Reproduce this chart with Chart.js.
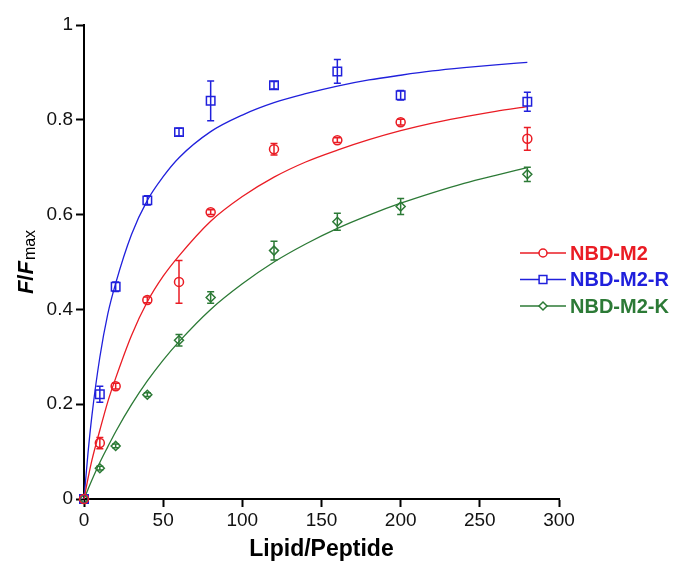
<!DOCTYPE html>
<html>
<head>
<meta charset="utf-8">
<script src="https://cdn.jsdelivr.net/npm/chart.js@4"></script>
<style>
  html, body { margin: 0; padding: 0; background: #ffffff; }
  #wrap { width: 678px; height: 563px; }
</style>
</head>
<body>
<div id="wrap"><canvas id="c" width="678" height="563"></canvas></div>
<script>
// Lipid/peptide ratios of the titration points
const ratios = [0, 10, 20, 40, 60, 80, 120, 160, 200, 280];

// Normalised fluorescence F/Fmax with standard deviations
const m2Values  = [0, 0.118, 0.238, 0.420, 0.458, 0.605, 0.738, 0.757, 0.795, 0.760];
const m2Errors  = [0, 0.012, 0.006, 0.006, 0.045, 0.005, 0.012, 0.005, 0.006, 0.024];
const m2rValues = [0, 0.221, 0.448, 0.630, 0.774, 0.840, 0.873, 0.902, 0.852, 0.838];
const m2rErrors = [0, 0.017, 0.010, 0.010, 0.008, 0.042, 0.008, 0.025, 0.010, 0.020];
const m2kValues = [0, 0.065, 0.112, 0.220, 0.335, 0.425, 0.524, 0.585, 0.617, 0.685];
const m2kErrors = [0, 0.004, 0.004, 0.004, 0.012, 0.012, 0.020, 0.018, 0.017, 0.015];

// Binding-curve fits, sampled along the ratio axis
const fitRatios = [0, 2.5, 5, 10, 15, 20, 30, 40, 50, 60, 80, 100, 120, 140, 160, 180, 200, 220, 240, 260, 280];
const m2Fit  = [0, 0.043, 0.082, 0.145, 0.205, 0.255, 0.345, 0.416, 0.470, 0.513, 0.586, 0.638, 0.679, 0.711, 0.736, 0.758, 0.777, 0.793, 0.806, 0.818, 0.828];
const m2rFit = [0, 0.096, 0.176, 0.299, 0.390, 0.455, 0.558, 0.630, 0.680, 0.720, 0.775, 0.810, 0.836, 0.855, 0.871, 0.884, 0.894, 0.903, 0.910, 0.916, 0.921];
const m2kFit = [0, 0.020, 0.040, 0.077, 0.110, 0.142, 0.199, 0.249, 0.293, 0.332, 0.400, 0.454, 0.500, 0.538, 0.571, 0.599, 0.624, 0.646, 0.666, 0.683, 0.699];

const seriesNames = ['NBD-M2', 'NBD-M2-R', 'NBD-M2-K'];
const xTicks = [0, 50, 100, 150, 200, 250, 300];
const yTicks = [0, 0.2, 0.4, 0.6, 0.8, 1];

const RED = '#ea1c24';
const BLUE = '#2020dc';
const GREEN = '#2c7a36';

const series = [
  { name: seriesNames[0], color: RED,   style: 'circle',  radius: 4.5, values: m2Values,  errors: m2Errors,  fit: m2Fit },
  { name: seriesNames[1], color: BLUE,  style: 'rect',    radius: 6,   values: m2rValues, errors: m2rErrors, fit: m2rFit },
  { name: seriesNames[2], color: GREEN, style: 'rectRot', radius: 4.5, values: m2kValues, errors: m2kErrors, fit: m2kFit }
];

const toXY = (xs, ys) => xs.map((x, i) => ({ x: x, y: ys[i] }));

const datasets = [];
series.forEach((s, k) => {
  datasets.push({
    type: 'line',
    label: s.name + ' fit',
    data: toXY(fitRatios, s.fit),
    borderColor: s.color,
    borderWidth: 1.3,
    pointRadius: 0,
    cubicInterpolationMode: 'monotone',
    fill: false,
    clip: false,
    order: 2
  });
  datasets.push({
    type: 'scatter',
    label: s.name,
    data: toXY(ratios, s.values),
    errors: s.errors,
    borderColor: s.color,
    backgroundColor: 'rgba(255,255,255,0)',
    pointStyle: s.style,
    pointRadius: s.radius,
    pointHoverRadius: s.radius,
    pointBorderWidth: 1.5,
    showLine: false,
    clip: false,
    order: 1
  });
});

// Vertical error bars with caps, placed through the chart scales
const errorBars = {
  id: 'errorBars',
  afterDatasetsDraw(chart) {
    const ctx = chart.ctx;
    const xs = chart.scales.x, ys = chart.scales.y;
    chart.data.datasets.forEach((ds) => {
      if (!ds.errors) return;
      ctx.save();
      ctx.strokeStyle = ds.borderColor;
      ctx.lineWidth = 1.5;
      ds.data.forEach((p, i) => {
        const e = ds.errors[i];
        if (!e) return;
        const px = xs.getPixelForValue(p.x);
        const top = ys.getPixelForValue(p.y + e);
        const bot = ys.getPixelForValue(p.y - e);
        const cap = 3.5;
        ctx.beginPath();
        ctx.moveTo(px, top); ctx.lineTo(px, bot);
        ctx.moveTo(px - cap, top); ctx.lineTo(px + cap, top);
        ctx.moveTo(px - cap, bot); ctx.lineTo(px + cap, bot);
        ctx.stroke();
      });
      ctx.restore();
    });
  }
};

// Legend with line-and-marker swatches and coloured bold names
const sideLegend = {
  id: 'sideLegend',
  afterDraw(chart) {
    const ctx = chart.ctx;
    const x0 = 520, x1 = 566, tx = 570, y0 = 253, dy = 26.5;
    ctx.save();
    series.forEach((s, k) => {
      const y = y0 + k * dy;
      ctx.strokeStyle = s.color;
      ctx.lineWidth = 1.3;
      ctx.beginPath();
      ctx.moveTo(x0, y); ctx.lineTo(x1, y);
      ctx.stroke();
      ctx.lineWidth = 1.5;
      ctx.fillStyle = '#ffffff';
      Chart.helpers.drawPoint(ctx, {
        pointStyle: s.style, radius: s.radius - 0.5, rotation: 0, borderWidth: 1.5
      }, (x0 + x1) / 2, y);
      ctx.fillStyle = s.color;
      ctx.font = 'bold 20px "Liberation Sans", Arial, sans-serif';
      ctx.textBaseline = 'middle';
      ctx.textAlign = 'left';
      ctx.fillText(s.name, tx, y + 1);
    });
    ctx.restore();
  }
};

// Rotated y-axis title: italic F / F with a "max" subscript
const yTitle = {
  id: 'yTitle',
  afterDraw(chart) {
    const ctx = chart.ctx;
    const area = chart.chartArea;
    const fBig = 'italic bold 22px "Liberation Sans", Arial, sans-serif';
    const slash = 'bold 22px "Liberation Sans", Arial, sans-serif';
    const sub = '16px "Liberation Sans", Arial, sans-serif';
    ctx.save();
    ctx.fillStyle = '#000000';
    ctx.textBaseline = 'alphabetic';
    ctx.textAlign = 'left';
    const parts = [
      { t: 'F', f: fBig, dy: 0 },
      { t: '/', f: slash, dy: 0 },
      { t: 'F', f: fBig, dy: 0 },
      { t: 'max', f: sub, dy: 1.5 }
    ];
    let total = 0;
    parts.forEach(p => { ctx.font = p.f; p.w = ctx.measureText(p.t).width; total += p.w; });
    total += 1;
    const cy = (area.top + area.bottom) / 2;
    ctx.translate(33, cy);
    ctx.rotate(-Math.PI / 2);
    let x = -total / 2;
    parts.forEach((p, i) => {
      ctx.font = p.f;
      ctx.fillText(p.t, x, p.dy);
      x += p.w + (i === 2 ? 1 : 0);
    });
    ctx.restore();
  }
};

const tickFont = { family: '"Liberation Sans", Arial, sans-serif', size: 19 };

new Chart(document.getElementById('c'), {
  data: { datasets: datasets },
  options: {
    responsive: false,
    animation: false,
    devicePixelRatio: 1,
    layout: { padding: { left: 0, top: 25, right: 119, bottom: 0 } },
    plugins: {
      legend: { display: false },
      tooltip: { enabled: false }
    },
    scales: {
      x: {
        type: 'linear',
        min: 0, max: 300,
        afterFit: s => { s.height = 64; },
        afterBuildTicks: s => { s.ticks = xTicks.map(v => ({ value: v })); },
        grid: { display: true, drawOnChartArea: false, drawTicks: true, tickLength: 8, tickWidth: 2, tickColor: '#000000' },
        border: { display: true, color: '#000000', width: 2 },
        ticks: { color: '#111111', font: tickFont, padding: 2, maxRotation: 0, callback: v => String(v) },
        title: {
          display: true,
          text: 'Lipid/Peptide',
          color: '#000000',
          font: { family: '"Liberation Sans", Arial, sans-serif', size: 23, weight: 'bold' },
          padding: { top: 0, bottom: 0 }
        }
      },
      y: {
        type: 'linear',
        min: 0, max: 1,
        afterFit: s => { s.width = 84; },
        afterBuildTicks: s => { s.ticks = yTicks.map(v => ({ value: v })); },
        grid: { display: true, drawOnChartArea: false, drawTicks: true, tickLength: 8, tickWidth: 2, tickColor: '#000000' },
        border: { display: true, color: '#000000', width: 2 },
        ticks: { color: '#111111', font: tickFont, padding: 3, callback: v => String(Math.round(v * 10) / 10) }
      }
    }
  },
  plugins: [errorBars, sideLegend, yTitle]
});
</script>
</body>
</html>
